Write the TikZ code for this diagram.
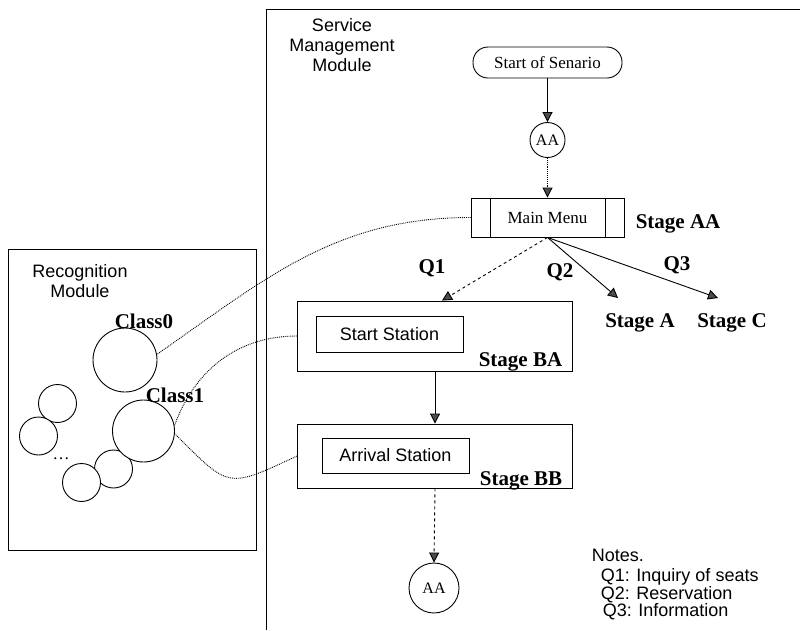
\documentclass[tikz,border=0pt]{standalone}
\usepackage{fontspec}
\setmainfont{Liberation Serif}
\setsansfont{Liberation Sans}
\usetikzlibrary{
    arrows.meta,
    calc
}

\tikzset{
    lbl/.style={font=\bfseries\fontsize{21}{24}\selectfont},
    sans/.style={font=\sffamily\fontsize{18}{20}\selectfont},
    serif/.style={font=\fontsize{17}{20}\selectfont},
    flow/.style={-{Triangle[length=10pt,width=10pt,fill=black!70]}},
    link/.style={densely dotted},
    cls/.style={draw, circle, fill=white, inner sep=0pt}
}

\begin{document}
\begin{tikzpicture}[x=1pt,y=-1pt,line width=0.9pt]
\useasboundingbox (0,0) rectangle (800,630);

% Frames
\draw (800,9)--(266,9)--(266,630);
\draw (8,249) rectangle (256,550);
\node[sans, align=center] (rmod) at (80,281) {Recognition\\Module};
\node[sans, align=center] (smod) at (342,45) {Service\\Management\\Module};

% Classes
\node[cls, minimum size=38pt] (c2) at (57.5,403.5) {};
\node[cls, minimum size=38pt] (c3) at (38.5,436) {};
\node[cls, minimum size=38pt] (c5) at (113.5,469) {};
\node[cls, minimum size=38pt] (c4) at (81.5,482.5) {};
\node[cls, minimum size=64pt] (class0) at (125,360) {};
\node[cls, minimum size=62pt] (class1) at (143.5,431) {};
\node[lbl] (l0) at (144,321) {Class0};
\node[lbl] (l1) at (175,395) {Class1};
\node[serif] (dots) at (61,459) {\dots};

% Start and main menu
\node[draw, serif, rounded corners=15pt, minimum width=149pt, minimum height=31pt, inner sep=0pt] (start) at (547.5,62.5) {Start of Senario};
\node[draw, circle, minimum size=35pt, inner sep=0pt, font=\fontsize{16}{18}\selectfont] (aa1) at (547.5,140) {AA};
\node[draw, serif, minimum width=153pt, minimum height=39pt, inner sep=0pt] (mm) at (547.5,217.5) {Main Menu};
\draw ([xshift=20pt]mm.north west)--([xshift=20pt]mm.south west);
\draw ([xshift=-19pt]mm.north east)--([xshift=-19pt]mm.south east);
\node[lbl, anchor=base west] (sAA) at (632,228) {Stage AA};

% Stages
\node[draw, minimum width=275pt, minimum height=70pt, inner sep=0pt] (ba) at (435,336) {};
\node[draw, sans, minimum width=147pt, minimum height=36pt, inner sep=0pt] (sst) at (389.5,334) {Start Station};
\node[lbl, anchor=base east] (sBA) at (566,366) {Stage BA};
\node[draw, minimum width=275pt, minimum height=64pt, inner sep=0pt] (bb) at (435,456) {};
\node[draw, sans, minimum width=147pt, minimum height=35pt, inner sep=0pt] (ast) at (395.5,455.5) {Arrival Station};
\node[lbl, anchor=base east] (sBB) at (566,485) {Stage BB};
\node[draw, circle, minimum size=50pt, inner sep=0pt, font=\fontsize{16}{18}\selectfont] (aa2) at (434,588) {AA};

\coordinate (ta) at (618,298);
\coordinate (tc) at (718,298);
\node[lbl] (sA) at (640,323) {Stage A};
\node[lbl] (sC) at (732,323) {Stage C};
\node[lbl] (q1) at (432,268) {Q1};
\node[lbl] (q2) at (560,272) {Q2};
\node[lbl] (q3) at (677,265) {Q3};

% Arrows
\draw[flow] (start)--(aa1);
\draw[flow, densely dotted] (aa1)--(mm);
\draw[flow, dashed] (mm.south)--([xshift=7pt]ba.north);
\draw[flow] (mm.south)--(ta);
\draw[flow] (mm.south)--(tc);
\draw[flow] (ba.south)--(bb.north);
\draw[flow, dashed] (bb.south)--(aa2.north);

% Links to classes
\draw[link] (mm.west) to[out=180,in=35] (class0.10);
\draw[link] (ba.west) to[out=180,in=70] (class1.10);
\draw[link] (bb.west) to[out=205,in=-45,looseness=1.6] (class1.-5);

% Notes
\node[sans, anchor=west] (notes) at (588,555) {Notes.};
\node[sans, anchor=west] (n1) at (597,577) {Q1: Inquiry of seats};
\node[sans, anchor=west] (n2) at (597,595) {Q2: Reservation};
\node[sans, anchor=west] (n3) at (599,612) {Q3: Information};

\end{tikzpicture}
\end{document}
